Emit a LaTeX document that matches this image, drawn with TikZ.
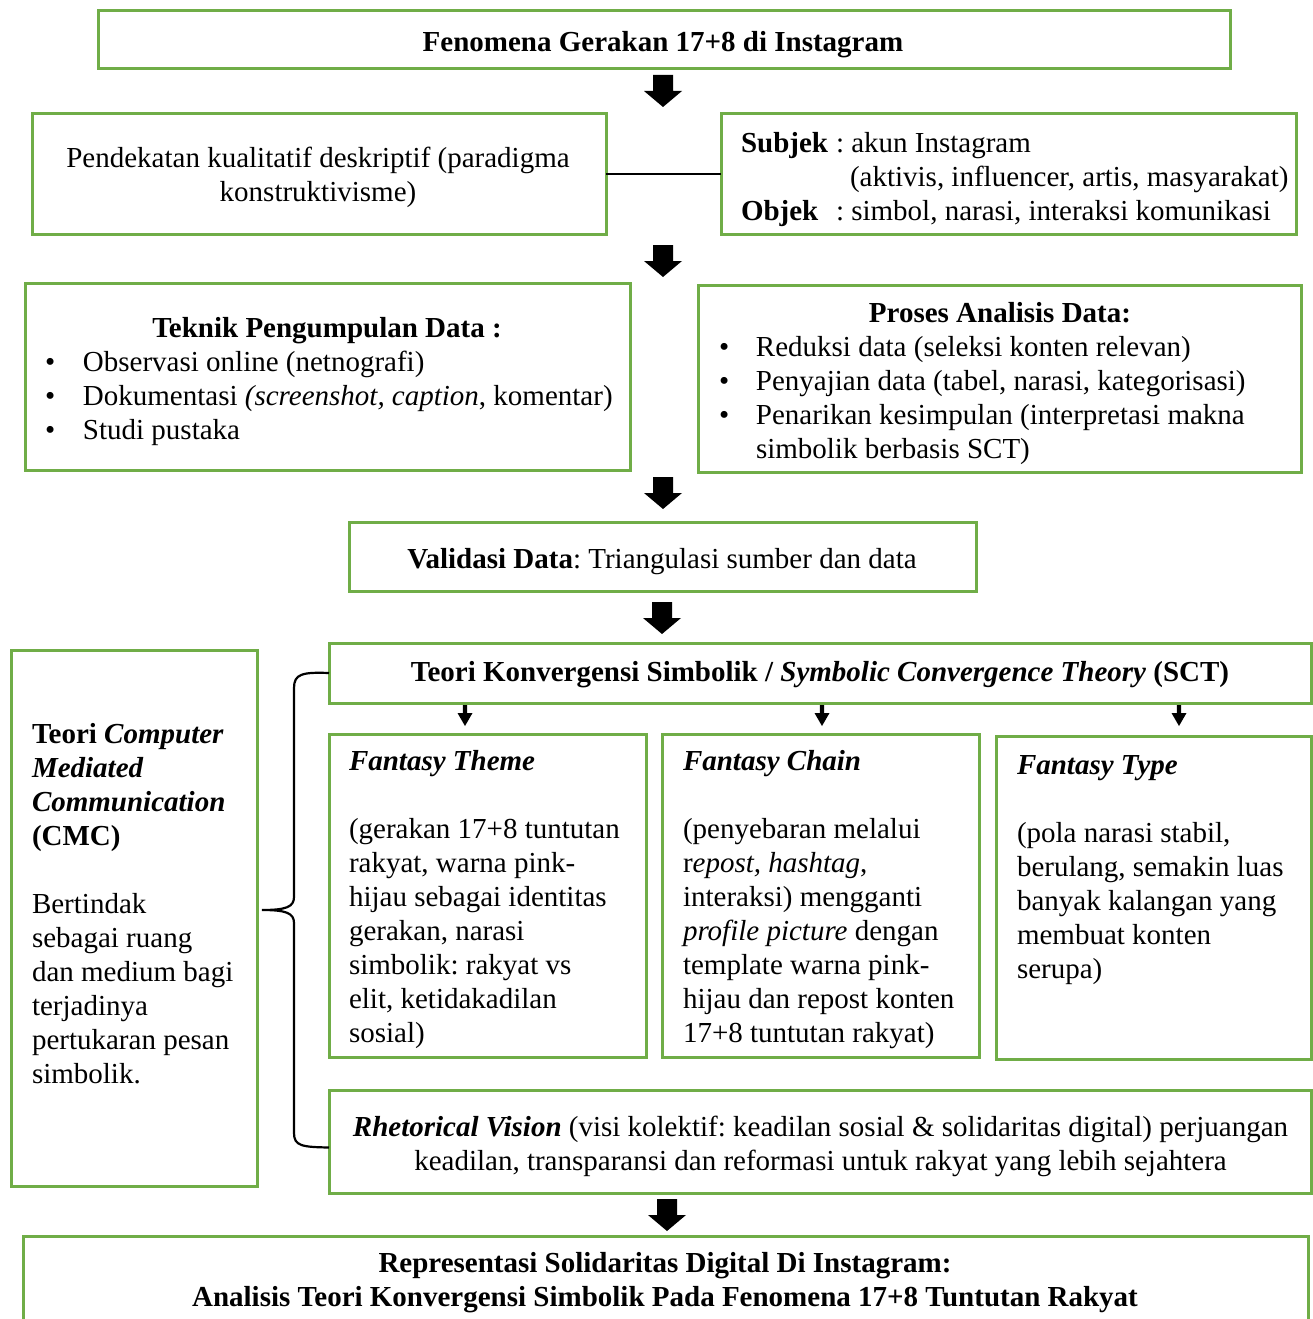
\documentclass[tikz,border=0pt]{standalone}
\usepackage{fontspec}
\setmainfont{Liberation Serif}
\usetikzlibrary{calc}
\definecolor{boxgreen}{RGB}{112,173,71}
\frenchspacing
\newcommand\gbox[5]{\node[gbox, anchor=north west, minimum width={#4-#2}, minimum height={#5-#3}] (#1) at (#2,#3) {};}
\begin{document}
\begin{tikzpicture}[x=1pt,y=-1pt,
  every node/.style={font=\fontsize{29}{34}\selectfont\frenchspacing},
  gbox/.style={draw=boxgreen, line width=3pt, inner sep=0pt, outer sep=0pt, fill=white},
  txt/.style={inner sep=0pt, outer sep=0pt},
  bigarrow/.pic={\fill[black] (-10,0) -- (10,0) -- (10,16) -- (19,16) -- (0,32) -- (-19,16) -- (-10,16) -- cycle;},
  smallarrow/.pic={\fill[black] (-2.2,0) -- (2.2,0) -- (2.2,8) -- (7.5,8) -- (0,21) -- (-7.5,8) -- (-2.2,8) -- cycle;},
  brace/.style={draw=black, line width=2.2pt}]
\useasboundingbox (0,0) rectangle (1313,1319);
\clip (0,0) rectangle (1313,1319);
\fill[white] (0,0) rectangle (1313,1319);

% boxes
\gbox{top}{98}{11}{1230}{69}
\gbox{pend}{32}{114}{606}{234}
\gbox{subj}{721}{114}{1296}{234}
\gbox{tek}{25}{283}{630}{470}
\gbox{pro}{698}{285}{1301}{472}
\gbox{val}{349}{522}{976}{591}
\gbox{cmc}{11}{650}{257}{1186}
\gbox{sct}{329}{643}{1311}{703}
\gbox{ft}{329}{734}{646}{1057}
\gbox{fc}{662}{734}{979}{1057}
\gbox{fty}{996}{736}{1311}{1059}
\gbox{rv}{329}{1090}{1311}{1193}
\gbox{bot}{23}{1236}{1308}{1345}

% texts
\node[txt] (ttop) at (663,45) {\textbf{Fenomena Gerakan 17+8 di Instagram}};
\node[txt, align=center] (tpend) at (318,177.5) {Pendekatan kualitatif deskriptif (paradigma\\konstruktivisme)};
\node[txt, align=left, anchor=west] (tsubj) at (741,179.5) {\makebox[95pt][l]{\textbf{Subjek}}: akun Instagram\\
\hspace*{109pt}(aktivis, influencer, artis, masyarakat)\\
\makebox[95pt][l]{\textbf{Objek}}: simbol, narasi, interaksi komunikasi};
\node[txt, align=left, anchor=west] (ttek) at (45,381.5) {\makebox[564pt][c]{\textbf{Teknik Pengumpulan Data :}}\\
\makebox[38pt][l]{\textbullet}Observasi online (netnografi)\\
\makebox[38pt][l]{\textbullet}Dokumentasi \textit{(screenshot, caption}, komentar)\\
\makebox[38pt][l]{\textbullet}Studi pustaka};
\node[txt, align=left, anchor=west] (tpro) at (719,383.5) {\makebox[562pt][c]{\textbf{Proses Analisis Data:}}\\
\makebox[37pt][l]{\textbullet}Reduksi data (seleksi konten relevan)\\
\makebox[37pt][l]{\textbullet}Penyajian data (tabel, narasi, kategorisasi)\\
\makebox[37pt][l]{\textbullet}Penarikan kesimpulan (interpretasi makna\\
\hspace*{37pt}simbolik berbasis SCT)};
\node[txt] (tval) at (662,562) {\textbf{Validasi Data}: Triangulasi sumber dan data};
\node[txt, align=left, anchor=west] (tcmc) at (32,904) {\textbf{Teori \textit{Computer}}\\
\textbf{\textit{Mediated}}\\
\textbf{\textit{Communication}}\\
\textbf{(CMC)}\\
\mbox{}\\
Bertindak\\
sebagai ruang\\
dan medium bagi\\
terjadinya\\
pertukaran pesan\\
simbolik.};
\node[txt] (tsct) at (820,675) {\textbf{Teori Konvergensi Simbolik / \textit{Symbolic Convergence Theory} (SCT)}};
\node[txt, align=left, anchor=west] (tft) at (349,900) {\textbf{\textit{Fantasy Theme}}\\
\mbox{}\\
(gerakan 17+8 tuntutan\\
rakyat, warna pink-\\
hijau sebagai identitas\\
gerakan, narasi\\
simbolik: rakyat vs\\
elit, ketidakadilan\\
sosial)};
\node[txt, align=left, anchor=west] (tfc) at (683,900) {\textbf{\textit{Fantasy Chain}}\\
\mbox{}\\
(penyebaran melalui\\
r\textit{epost, hashtag},\\
interaksi) mengganti\\
\textit{profile picture} dengan\\
template warna pink-\\
hijau dan repost konten\\
17+8 tuntutan rakyat)};
\node[txt, align=left, anchor=west] (tfty) at (1017,870) {\textbf{\textit{Fantasy Type}}\\
\mbox{}\\
(pola narasi stabil,\\
berulang, semakin luas\\
banyak kalangan yang\\
membuat konten\\
serupa)};
\node[txt, align=center] (trv) at (820.5,1146) {\textbf{\textit{Rhetorical Vision}} (visi kolektif: keadilan sosial \& solidaritas digital) perjuangan\\
keadilan, transparansi dan reformasi untuk rakyat yang lebih sejahtera};
\node[txt, align=center] (tbot) at (665,1283) {\textbf{Representasi Solidaritas Digital Di Instagram:}\\
\textbf{Analisis Teori Konvergensi Simbolik Pada Fenomena 17+8 Tuntutan Rakyat}};

% connectors
\draw[line width=2pt] (pend.east) -- (subj.west);
\pic at (663,75) {bigarrow};
\pic at (663,245) {bigarrow};
\pic at (663,477) {bigarrow};
\pic at (662,602) {bigarrow};
\pic at (667,1199) {bigarrow};
\pic at (465,705) {smallarrow};
\pic at (822,705) {smallarrow};
\pic at (1179,705) {smallarrow};
\coordinate (bracetip) at (262,910);
\draw[brace] (sct.west) .. controls (302,672) and (294,674) .. (294,688)
  -- (294,897) .. controls (294,907) and (286,910) .. (bracetip)
  .. controls (286,910) and (294,913) .. (294,923)
  -- (294,1133) .. controls (294,1146) and (302,1147) .. ($(rv.west)+(0,6)$);
\end{tikzpicture}
\end{document}
